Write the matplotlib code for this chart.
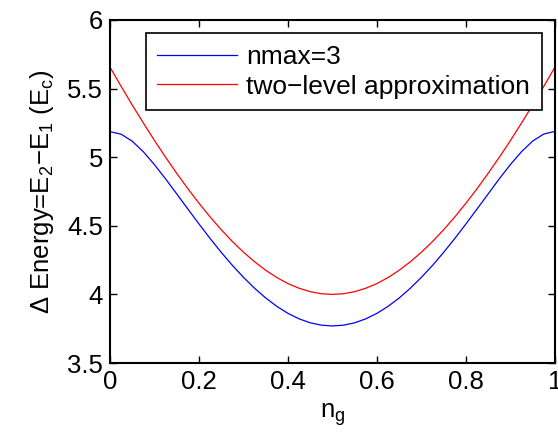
import numpy as np
import matplotlib
matplotlib.use("Agg")
import matplotlib.pyplot as plt

plt.rcParams['font.family'] = ['Liberation Sans', 'DejaVu Sans']

ng = np.linspace(0, 1, 41)
nmax3 = [5.186, 5.168, 5.117, 5.040, 4.946, 4.842, 4.733, 4.623, 4.514, 4.408,
         4.307, 4.212, 4.125, 4.045, 3.974, 3.913, 3.862, 3.822, 3.793, 3.776,
         3.770, 3.776, 3.793, 3.822, 3.862, 3.913, 3.974, 4.045, 4.125, 4.212,
         4.307, 4.408, 4.514, 4.623, 4.733, 4.843, 4.947, 5.041, 5.118, 5.169,
         5.188]
twolevel = [5.657, 5.517, 5.381, 5.250, 5.122, 5.000, 4.883, 4.771, 4.665, 4.565,
            4.472, 4.386, 4.308, 4.238, 4.176, 4.123, 4.079, 4.045, 4.020, 4.005,
            4.000, 4.005, 4.020, 4.045, 4.079, 4.123, 4.176, 4.238, 4.308, 4.386,
            4.472, 4.565, 4.665, 4.771, 4.883, 5.000, 5.122, 5.250, 5.381, 5.517,
            5.657]

fs = 18.5
fig = plt.figure(figsize=(5.58, 4.44), dpi=100)
ax = fig.add_axes([0.197, 0.1824, 0.7976, 0.7726])
ax.plot(ng, nmax3, color='#0000ff', lw=0.9, label='nmax=3')
ax.plot(ng, twolevel, color='#ff0000', lw=0.9, label='two\u2212level approximation')

ax.set_xlim(0, 1)
ax.set_ylim(3.5, 6)
ax.set_xticks([0, 0.2, 0.4, 0.6, 0.8, 1])
ax.set_xticklabels(['0', '0.2', '0.4', '0.6', '0.8', '1'])
ax.set_yticks([3.5, 4, 4.5, 5, 5.5, 6])
ax.set_yticklabels(['3.5', '4', '4.5', '5', '5.5', '6'])
ax.tick_params(direction='in', top=True, right=True, labelsize=fs, length=5, width=1, pad=5)
for s in ax.spines.values():
    s.set_linewidth(1.5)

ax.set_xlabel('n$_\\mathregular{g}$', fontsize=fs, labelpad=5)
ax.set_ylabel('\u0394 Energy=E$_\\mathregular{2}$\u2212E$_\\mathregular{1}$ (E$_\\mathregular{c}$)', fontsize=fs, labelpad=8)

leg = ax.legend(loc='upper right', bbox_to_anchor=(0.970, 0.961), borderaxespad=0,
                fontsize=19, handlelength=3.0, handletextpad=0.35, labelspacing=0.2,
                borderpad=0.45, fancybox=False, framealpha=1, edgecolor='black')
leg.get_frame().set_linewidth(1.2)

fig.savefig('out.png', dpi=100)
